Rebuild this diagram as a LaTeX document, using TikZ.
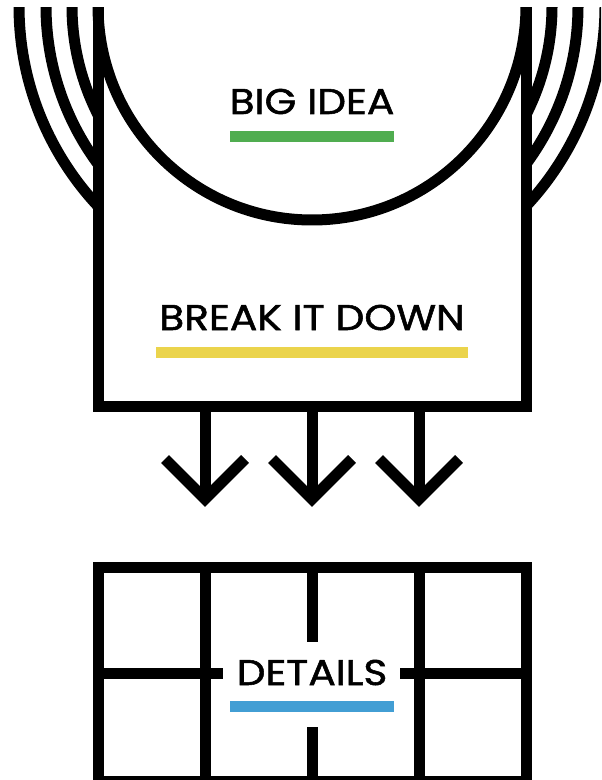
\documentclass[tikz,border=0pt]{standalone}
\usepackage{fontspec}
\setmainfont{Poppins}[FakeBold=1.5, FakeStretch=1.14]
\usetikzlibrary{positioning,calc}
\definecolor{ideaGreen}{RGB}{80,173,80}
\definecolor{breakGold}{RGB}{235,212,76}
\definecolor{detailBlue}{RGB}{66,158,212}
\tikzset{
  ink/.style={draw=black, line width=8.25pt, line cap=butt, line join=miter},
  headline/.style={font=\fontsize{26.8}{30}\selectfont, text=black,
    inner sep=0pt, anchor=base},
  underbar/.style={inner sep=0pt, minimum height=8.25pt, draw=none}
}
\begin{document}
\begin{tikzpicture}[x=0.75pt, y=-0.75pt]
\useasboundingbox (0,0) rectangle (601,780);
\clip (0,8) rectangle (601,780);

% idea circle and its rings
\coordinate (hub) at (312,6);
\draw[ink] (hub) circle[radius=214];
\begin{scope}
  \clip (0,8) rectangle (98,406);
  \draw[ink] (hub) circle[radius=240];
  \draw[ink] (hub) circle[radius=266];
  \draw[ink] (hub) circle[radius=293];
\end{scope}
\begin{scope}
  \clip (526,8) rectangle (601,406);
  \draw[ink] (hub) circle[radius=240];
  \draw[ink] (hub) circle[radius=266];
  \draw[ink] (hub) circle[radius=293];
\end{scope}

% break-down box
\draw[ink] (98,0) -- (98,406) -- (526,406) -- (526,0);

\node[headline] (bigidea) at (312,114) {BIG IDEA};
\node[underbar, fill=ideaGreen, minimum width=123pt] (ideabar) at (312,136.5) {};
\node[headline] (breakdown) at (312,330) {BREAK IT DOWN};
\node[underbar, fill=breakGold, minimum width=234pt] (breakbar) at (312,352.5) {};

% arrows
\coordinate (outL) at (205,406);
\coordinate (outM) at (312,406);
\coordinate (outR) at (419,406);
\coordinate (tipL) at (205,499);
\coordinate (tipM) at (312,499);
\coordinate (tipR) at (419,499);
\draw[ink] (outL) -- (tipL);
\draw[ink] (outM) -- (tipM);
\draw[ink] (outR) -- (tipR);
\draw[ink] ($(tipL)+(-40,-40)$) -- (tipL) -- ++(40,-40);
\draw[ink] ($(tipM)+(-40,-40)$) -- (tipM) -- ++(40,-40);
\draw[ink] ($(tipR)+(-40,-40)$) -- (tipR) -- ++(40,-40);

% details grid
\draw[ink] (98,567) rectangle (526,781);
\draw[ink] (205,567) -- (205,781);
\draw[ink] (419,567) -- (419,781);
\draw[ink] (312,567) -- (312,642);
\draw[ink] (312,727) -- (312,781);
\draw[ink] (98,673) -- (223,673);
\draw[ink] (400,673) -- (526,673);

\node[headline] (details) at (312,685) {DETAILS};
\node[underbar, fill=detailBlue, minimum width=123pt] (detailbar) at (312,706.5) {};
\end{tikzpicture}
\end{document}
